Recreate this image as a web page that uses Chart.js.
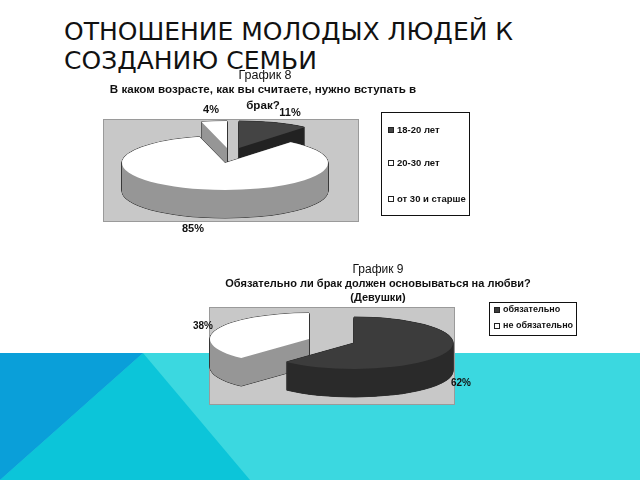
<!DOCTYPE html>
<html lang="ru">
<head>
<meta charset="utf-8">
<title>Отношение молодых людей к созданию семьи</title>
<script src="https://cdn.jsdelivr.net/npm/chart.js@4/dist/chart.umd.min.js"></script>
<style>
  html, body { margin: 0; padding: 0; background: #fff; }
  #slide { position: relative; width: 640px; height: 480px; overflow: hidden; background: #fff; }
  #bg { position: absolute; left: 0; top: 0; }
  #heading { position: absolute; left: 64px; top: 17px; font: 25px/29px "DejaVu Sans", sans-serif; color: #111; white-space: nowrap; }
  canvas { position: absolute; left: 0; top: 0; filter: blur(0.35px); }
</style>
</head>
<body>
<div id="slide">
  <svg id="bg" width="640" height="480">
    <rect x="0" y="353" width="640" height="127" fill="#3bd8e0"/>
    <polygon points="143,353 250,480 0,480" fill="#0cc5d9"/>
    <polygon points="0,353 143,353 0,480" fill="#0a9fd9"/>
  </svg>
  <div id="heading">ОТНОШЕНИЕ МОЛОДЫХ ЛЮДЕЙ К<br>СОЗДАНИЮ СЕМЬИ</div>
  <canvas id="ageChart" width="640" height="480"></canvas>
  <canvas id="loveChart" width="640" height="480"></canvas>
</div>
<script>
const ageLabels = ['18-20 лет', '20-30 лет', 'от 30 и старше'];
const ageValues = [11, 85, 4];
const loveLabels = ['обязательно', 'не обязательно'];
const loveValues = [62, 38];

const FONT = '"Liberation Sans", Arial, sans-serif';

function text(ctx, str, x, y, font, align) {
  ctx.font = font + ' ' + FONT;
  ctx.fillStyle = '#111';
  ctx.textAlign = align || 'center';
  ctx.textBaseline = 'middle';
  ctx.fillText(str, x, y);
}

// paint one arc element with the pie squashed into an ellipse
function paint(ctx, arc, k, x, y, fill) {
  const saved = arc.options;
  arc.options = Object.assign({}, saved, { backgroundColor: fill, borderWidth: 0 });
  ctx.save();
  ctx.translate(arc.x + x, arc.y + y);
  ctx.scale(1, k);
  ctx.translate(-arc.x, -arc.y);
  arc.draw(ctx);
  ctx.restore();
  arc.options = saved;
}

// stack the layers on a spare canvas, then flood them with one colour:
// painting the same colour over itself many times drifts and leaves streaks
function extrude(chart, arc, k, sx, sy, depth, nudge, colour) {
  const spare = document.createElement('canvas');
  spare.width = chart.width;
  spare.height = chart.height;
  const c = spare.getContext('2d');
  for (let d = depth; d >= 0; d -= 0.5) {
    nudge.forEach(([ax, ay]) => paint(c, arc, k, sx + ax, sy + d + ay, '#000'));
  }
  c.globalCompositeOperation = 'source-in';
  c.fillStyle = colour;
  c.fillRect(0, 0, spare.width, spare.height);
  chart.ctx.drawImage(spare, 0, 0);
}

const pie3d = {
  id: 'pie3d',
  beforeDatasetsDraw(chart, args, o) {
    const ctx = chart.ctx;
    const arcs = chart.getDatasetMeta(0).data;
    const values = chart.data.datasets[0].data;

    // plot rectangle
    ctx.fillStyle = '#c8c8c8';
    ctx.fillRect(o.plot[0], o.plot[1], o.plot[2], o.plot[3]);
    ctx.strokeStyle = '#9a9a9a';
    ctx.lineWidth = 1;
    ctx.strokeRect(o.plot[0] + 0.5, o.plot[1] + 0.5, o.plot[2] - 1, o.plot[3] - 1);

    // back to front, each slice: outline of the extrusion, side, top face
    o.order.forEach(i => {
      const arc = arcs[i];
      const [sx, sy] = o.shift[i];
      const w = 0.5;
      extrude(chart, arc, o.squash, sx, sy, o.depth, [[-w, 0], [w, 0], [0, -w], [0, w]], '#333333');
      extrude(chart, arc, o.squash, sx, sy, o.depth, [[0, 0]], o.side[i]);
      paint(ctx, arc, o.squash, sx, sy, chart.data.datasets[0].backgroundColor[i]);
    });

    // titles
    o.titles.forEach(t => text(ctx, t[0], t[1], t[2], t[3]));

    // value labels
    values.forEach((v, i) => {
      const p = o.valuePos[i];
      text(ctx, v + '%', p[0], p[1], o.valueFont);
    });

    // legend box
    const b = o.legend.box;
    ctx.fillStyle = '#fff';
    ctx.fillRect(b[0], b[1], b[2], b[3]);
    ctx.strokeStyle = '#111';
    ctx.lineWidth = 1;
    ctx.strokeRect(b[0] + 0.5, b[1] + 0.5, b[2] - 1, b[3] - 1);
    chart.data.labels.forEach((label, i) => {
      const y = o.legend.rows[i];
      ctx.fillStyle = chart.data.datasets[0].backgroundColor[i];
      ctx.fillRect(o.legend.x, y - 3, 6, 6);
      ctx.strokeStyle = '#222';
      ctx.strokeRect(o.legend.x + 0.5, y - 2.5, 5, 5);
      text(ctx, label, o.legend.x + 9, y, o.legend.font, 'left');
    });
    return false;
  }
};

function pieChart(id, labels, values, colors, padding, opts) {
  return new Chart(document.getElementById(id), {
    type: 'pie',
    data: { labels, datasets: [{ data: values, backgroundColor: colors, borderWidth: 0 }] },
    options: {
      responsive: false,
      animation: false,
      devicePixelRatio: 1,
      layout: { padding },
      plugins: { legend: { display: false }, title: { display: false }, tooltip: { enabled: false }, pie3d: opts }
    },
    plugins: [pie3d]
  });
}

pieChart('ageChart', ageLabels, ageValues, ['#444444', '#ffffff', '#ffffff'],
  { left: 122, right: 312, top: 60, bottom: 214 },
  {
    plot: [103, 119, 256, 103],
    squash: 27 / 103,
    depth: 28,
    order: [0, 2, 1],
    shift: [[14, -15], [0, 0], [2, -15]],
    side: ['#222222', '#969696', '#969696'],
    titles: [
      ['График 8', 265, 76, '12.5px'],
      ['В каком возрасте, как вы считаете, нужно вступать в', 263, 90, 'bold 11.6px'],
      ['брак?', 263, 106, 'bold 11.6px']
    ],
    valuePos: [[290, 113], [193, 229], [211, 110]],
    valueFont: 'bold 11px',
    legend: { box: [381, 112, 89, 104], x: 388, rows: [130, 163, 199], font: 'bold 9.5px' }
  });

pieChart('loveChart', loveLabels, loveValues, ['#3c3c3c', '#ffffff'],
  { left: 255, right: 187, top: 244, bottom: 38 },
  {
    plot: [209, 307, 246, 98],
    squash: 26 / 99,
    depth: 28,
    order: [1, 0],
    shift: [[0, 0], [-45, -4]],
    side: ['#2a2a2a', '#969696'],
    titles: [
      ['График 9', 378, 270, '12px'],
      ['Обязательно ли брак должен основываться на любви?', 378, 284, 'bold 11px'],
      ['(Девушки)', 378, 298, 'bold 11px']
    ],
    valuePos: [[461, 383], [203, 326]],
    valueFont: 'bold 10px',
    legend: { box: [489, 302, 88, 34], x: 494, rows: [310, 326], font: 'bold 9px' }
  });
</script>
</body>
</html>
